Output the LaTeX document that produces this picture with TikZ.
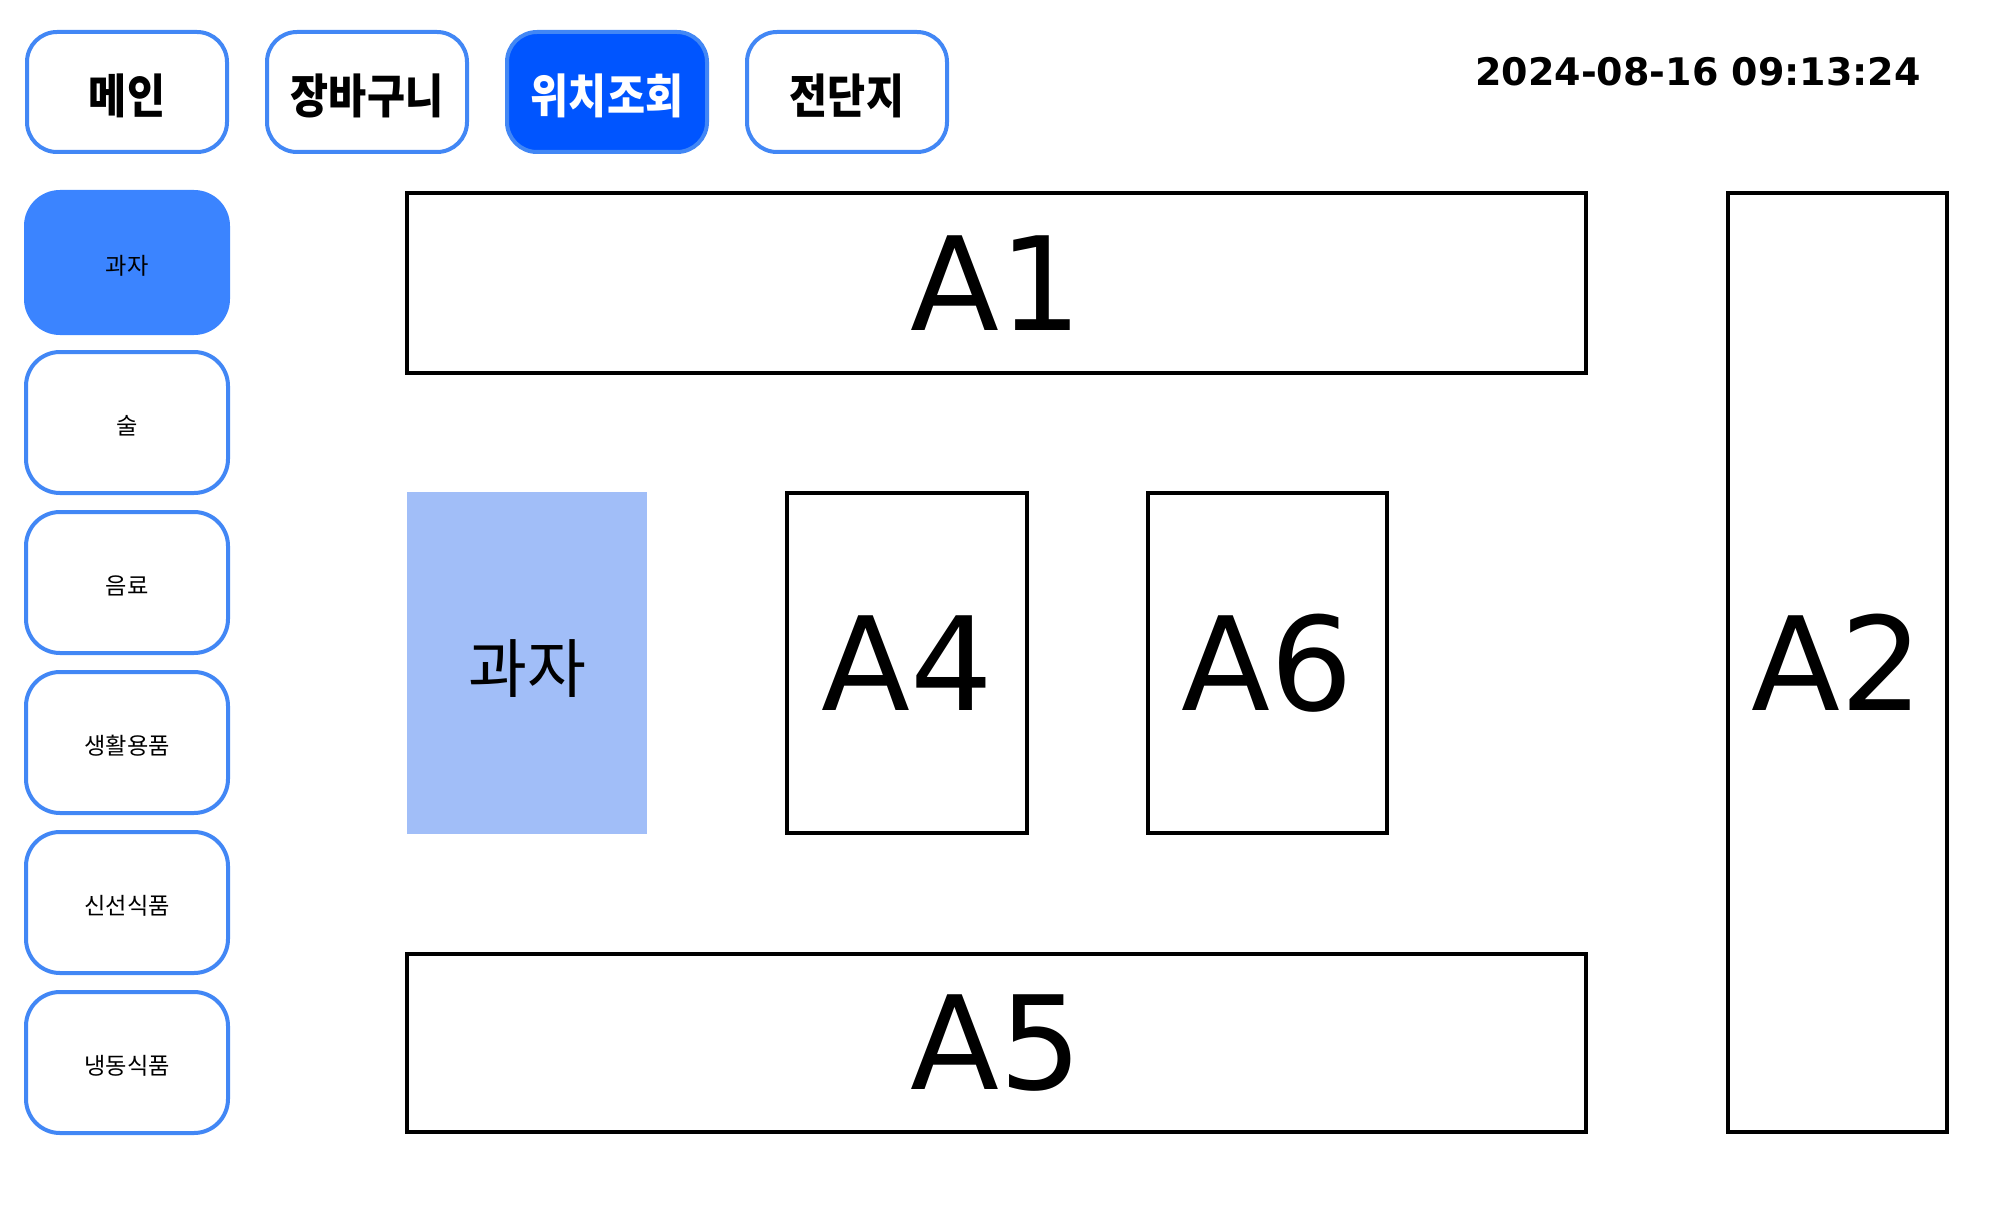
\documentclass[tikz,border=0pt]{standalone}
\usepackage{fontspec}
\setmainfont{DejaVu Sans}
\newfontfamily\kr{Noto Sans CJK KR}
\newfontfamily\krc{Noto Sans CJK KR}[FakeStretch=0.88]
\newcommand{\lowr}[2]{\raisebox{-#1}[\height][\depth]{#2}}
\definecolor{btnblue}{RGB}{66,135,245}
\definecolor{activeblue}{RGB}{0,85,255}
\definecolor{sideactive}{RGB}{59,132,255}
\definecolor{shelfblue}{RGB}{161,190,248}
\tikzset{
  topbtn/.style={draw=btnblue, line width=2pt, rounded corners=15pt, fill=white,
    minimum width=100pt, minimum height=60pt, inner sep=0pt,
    font=\krc\bfseries\fontsize{23.5pt}{28pt}\selectfont},
  topactive/.style={topbtn, fill=activeblue, draw=btnblue, text=white},
  sidebtn/.style={draw=btnblue, line width=2pt, rounded corners=17pt, fill=white,
    minimum width=101pt, minimum height=70.5pt, inner sep=0pt,
    font=\kr\fontsize{11.6pt}{14pt}\selectfont},
  sideactive/.style={sidebtn, fill=sideactive, draw=sideactive},
  mapbox/.style={draw=black, line width=2.2pt, inner sep=0pt,
    font=\fontsize{65pt}{78pt}\selectfont},
  shelf/.style={fill=shelfblue, inner sep=0pt,
    font=\kr\fontsize{32pt}{38pt}\selectfont}
}
\begin{document}
\begin{tikzpicture}[x=0.5pt,y=-0.5pt]
\useasboundingbox (0,0) rectangle (2006,1225);
% top navigation
\node[topbtn] (main) at (127,92) {\lowr{2pt}{메인}};
\node[topbtn] (cart) at (367,92) {\lowr{2pt}{장바구니}};
\node[topactive] (loc) at (607,92) {\lowr{2pt}{위치조회}};
\node[topbtn] (flyer) at (847,92) {\lowr{2pt}{전단지}};
\node[anchor=base west, inner sep=0pt, font=\bfseries\fontsize{19pt}{23pt}\selectfont] (time) at (1475,86) {2024-08-16 09:13:24};
% side categories
\node[sideactive] (c1) at (127,262.5) {\lowr{1.5pt}{과자}};
\node[sidebtn] (c2) at (127,422.5) {\lowr{1.5pt}{술}};
\node[sidebtn] (c3) at (127,582.5) {\lowr{1.5pt}{음료}};
\node[sidebtn] (c4) at (127,742.5) {\lowr{1.5pt}{생활용품}};
\node[sidebtn] (c5) at (127,902.5) {\lowr{1.5pt}{신선식품}};
\node[sidebtn] (c6) at (127,1062.5) {\lowr{1.5pt}{냉동식품}};
% map
\node[mapbox, minimum width=589.5pt, minimum height=90pt] (a1) at (996.5,283) {A1};
\node[mapbox, minimum width=109.5pt, minimum height=469.5pt] (a2) at (1837.5,662.5) {A2};
\node[shelf, minimum width=120pt, minimum height=171pt] (snack) at (527,663) {\lowr{3pt}{과자}};
\node[mapbox, minimum width=120pt, minimum height=170pt] (a4) at (907,663) {A4};
\node[mapbox, minimum width=119.5pt, minimum height=170pt] (a6) at (1267.5,663) {A6};
\node[mapbox, minimum width=589.5pt, minimum height=89pt] (a5) at (996.5,1043) {A5};
\end{tikzpicture}
\end{document}
